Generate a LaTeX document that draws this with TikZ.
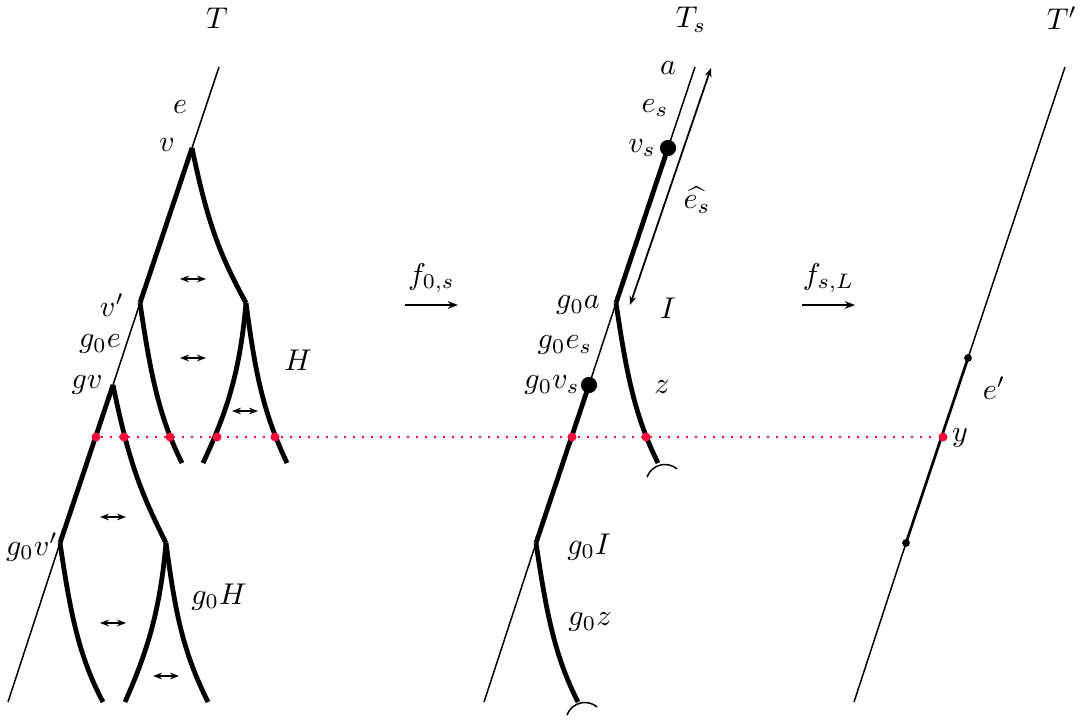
\documentclass[tikz,border=0pt]{standalone}
\usepackage{amsmath}
\usepackage{tikz}
\usetikzlibrary{arrows.meta}
\definecolor{dotred}{RGB}{250,10,60}

\begin{document}
\begin{tikzpicture}[
  x=0.33333pt, y=0.33333pt,
  thin edge/.style={line width=0.5pt},
  fat edge/.style={line width=1.6pt},
  swap/.style={{Stealth[length=3pt]}-{Stealth[length=3pt]}, line width=0.55pt},
  map/.style={-{Stealth[length=3.4pt]}, line width=0.6pt},
  reddot/.style={circle, fill=dotred, inner sep=0pt, minimum size=3pt},
  bigdot/.style={circle, fill=black, inner sep=0pt, minimum size=5.4pt},
  smalldot/.style={circle, fill=black, inner sep=0pt, minimum size=2.6pt},
  level/.style={dotred, line width=0.6pt, dash pattern=on 0.6pt off 2.4pt}
]
\useasboundingbox (0,0) rectangle (1082,-722);

% tree T
\coordinate (top) at (219,-67);
\coordinate (v) at (192,-148);
\coordinate (vp) at (140,-303);
\coordinate (gv) at (113,-385);
\coordinate (gvp) at (60,-543);
\coordinate (bot) at (8,-702);
\coordinate (h) at (246,-303);
\coordinate (gh) at (166,-543);
\draw[thin edge] (top) -- (v);
\draw[fat edge] (v) -- (vp);
\draw[thin edge] (vp) -- (gv);
\draw[fat edge] (gv) -- (gvp);
\draw[thin edge] (gvp) -- (bot);
\draw[fat edge] (v) .. controls (208,-225) and (220,-255) .. (h);
\draw[fat edge] (vp) .. controls (150,-370) and (158,-415) .. (182,-463);
\draw[fat edge] (h) .. controls (240,-370) and (228,-410) .. (203,-463);
\draw[fat edge] (h) .. controls (255,-370) and (262,-410) .. (287,-463);
\draw[fat edge] (gv) .. controls (129,-463) and (141,-493) .. (gh);
\draw[fat edge] (gvp) .. controls (70,-610) and (78,-655) .. (103,-702);
\draw[fat edge] (gh) .. controls (160,-610) and (148,-650) .. (125,-702);
\draw[fat edge] (gh) .. controls (175,-610) and (182,-650) .. (208,-702);
\foreach \x/\y in {193/279, 193/358, 245/411, 113/517, 113/623, 166/676}
  \draw[swap] (\x-13,-\y) -- (\x+13,-\y);

\node (lT) at (217,-18) {$T$};
\node (le) at (180,-107) {$e$};
\node (lv) at (167,-145) {$v$};
\node (lvp) at (112,-305) {$v'$};
\node (lge) at (100,-344) {$g_0e$};
\node (lgv) at (87,-385) {$gv$};
\node (lH) at (298,-360) {$H$};
\node (lgvp) at (32,-547) {$g_0v'$};
\node (lgH) at (219,-597) {$g_0H$};

% tree T_s
\coordinate (stop) at (695,-67);
\coordinate (ga) at (616,-303);
\coordinate (gI) at (536,-543);
\coordinate (sbot) at (484,-702);
\draw[thin edge] (stop) -- (668,-148);
\draw[fat edge] (668,-148) -- (ga);
\draw[thin edge] (ga) -- (589,-385);
\draw[fat edge] (589,-385) -- (gI);
\draw[thin edge] (gI) -- (sbot);
\draw[fat edge] (ga) .. controls (626,-370) and (634,-415) .. (658,-463);
\draw[fat edge] (gI) .. controls (546,-610) and (554,-655) .. (578,-702);
\draw[thin edge] (647,-477) arc[start angle=160, end angle=50, radius=19];
\draw[thin edge] (567,-715) arc[start angle=160, end angle=50, radius=19];
\node[bigdot] (vs) at (668,-148) {};
\node[bigdot] (gvs) at (589,-385) {};
\coordinate (hatlo) at (630,-305);
\coordinate (hathi) at (711,-68);
\draw[swap, line width=0.6pt] (hatlo) -- (hathi);

\node (lTs) at (691,-20) {$T_s$};
\node (la) at (668,-68) {$a$};
\node (les) at (655,-108) {$e_s$};
\node (lvs) at (642,-148) {$v_s$};
\node (lhat) at (697,-200) {$\widehat{e_s}$};
\node (lga) at (578,-305) {$g_0a$};
\node (lI) at (668,-308) {$I$};
\node (lges) at (565,-345) {$g_0e_s$};
\node (lgvs) at (552,-385) {$g_0v_s$};
\node (lz) at (662,-387) {$z$};
\node (lgI) at (589,-547) {$g_0I$};
\node (lgz) at (590,-622) {$g_0z$};

% tree T'
\coordinate (ptop) at (1065,-67);
\coordinate (pbot) at (854,-702);
\node[smalldot] (p1) at (968,-358) {};
\node[smalldot] (p2) at (906,-543) {};
\draw[thin edge] (ptop) -- (p1.center);
\draw[line width=0.9pt] (p1.center) -- (p2.center);
\draw[thin edge] (p2.center) -- (pbot);
\node (lTp) at (1062,-18) {$T'$};
\node (lep) at (994,-388) {$e'$};

% maps
\coordinate (m1a) at (405,-305);
\coordinate (m1b) at (458,-305);
\coordinate (m2a) at (802,-305);
\coordinate (m2b) at (855,-305);
\draw[map] (m1a) -- node[above=0.5pt] {$f_{0,s}$} (m1b);
\draw[map] (m2a) -- node[above=0.5pt] {$f_{s,L}$} (m2b);

% level line
\node[reddot] (r1) at (96,-437) {};
\node[reddot] (r2) at (124,-437) {};
\node[reddot] (r3) at (170,-437) {};
\node[reddot] (r4) at (217,-437) {};
\node[reddot] (r5) at (275,-437) {};
\node[reddot] (r6) at (572,-437) {};
\node[reddot] (r7) at (646,-437) {};
\node[reddot] (ry) at (943,-437) {};
\draw[level] (r1) -- (ry);
\node (ly) at (960,-438) {$y$};
\end{tikzpicture}
\end{document}
